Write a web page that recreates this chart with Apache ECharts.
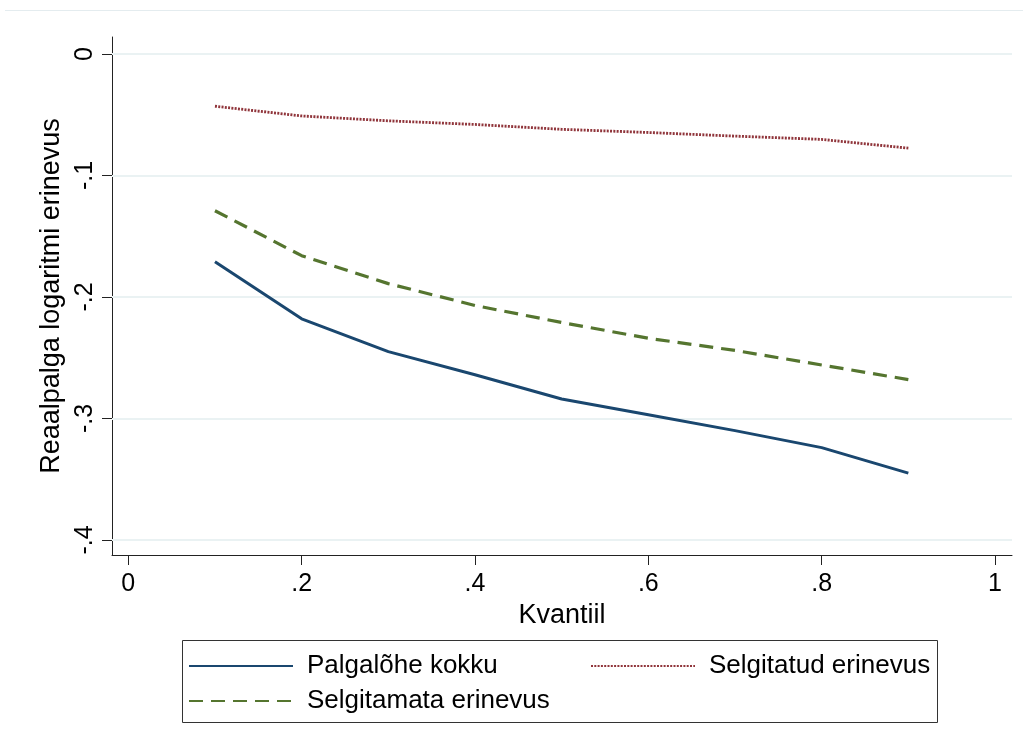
<!DOCTYPE html>
<html>
<head>
<meta charset="utf-8">
<script src="https://cdn.jsdelivr.net/npm/echarts@6/dist/echarts.min.js"></script>
<style>
html,body{margin:0;padding:0;background:#fff;}
#c{width:1023px;height:751px;}
</style>
</head>
<body>
<div id="c"></div>
<script>
// Data
var quantiles = [0.1, 0.2, 0.3, 0.4, 0.5, 0.6, 0.7, 0.8, 0.9];
var palgalohe = [-0.171, -0.218, -0.245, -0.264, -0.284, -0.297, -0.310, -0.324, -0.345];
var selgitatud = [-0.043, -0.051, -0.055, -0.058, -0.062, -0.0646, -0.0676, -0.0703, -0.0775];
var selgitamata = [-0.129, -0.166, -0.189, -0.207, -0.221, -0.234, -0.244, -0.256, -0.268];
var xTicks = [0, 0.2, 0.4, 0.6, 0.8, 1];
var yTicks = [0, -0.1, -0.2, -0.3, -0.4];
var seriesNames = ['Palgalõhe kokku', 'Selgitatud erinevus', 'Selgitamata erinevus'];

function pair(xs, ys){ return xs.map(function(x,i){ return [x, ys[i]]; }); }
function fmt(v){
  if (Math.abs(v) < 1e-9) return '0';
  var s = (Math.round(v*10)/10).toString();
  return s.replace(/^(-?)0\./, '$1.');
}

var FONT = 'Liberation Sans, Arial, sans-serif';
var chart = echarts.init(document.getElementById('c'), null, {renderer:'canvas'});
var legendBase = {
  orient: 'horizontal', itemWidth: 104, itemHeight: 14,
  itemStyle: {opacity: 0},
  textStyle: {fontFamily: FONT, fontSize: 26, color: '#000', padding: [0,0,0,9]},
  selectedMode: false
};
chart.setOption({
  backgroundColor: '#fff',
  animation: false,
  grid: {left: 112, top: 37, right: 11, bottom: 196, containLabel: false},
  xAxis: {
    type: 'value', min: -0.0188, max: 1.0196,
    name: 'Kvantiil', nameLocation: 'middle', nameGap: 37,
    nameTextStyle: {fontFamily: FONT, fontSize: 27, color: '#000'},
    axisLine: {show: true, onZero: false, lineStyle: {color: '#222', width: 1}},
    axisTick: {show: true, length: 10, inside: false, customValues: xTicks, lineStyle: {color: '#222'}},
    axisLabel: {customValues: xTicks, formatter: fmt, margin: 17, fontFamily: FONT, fontSize: 25, color: '#000'},
    splitLine: {show: false}
  },
  yAxis: {
    type: 'value', min: -0.4124, max: 0.014,
    name: 'Reaalpalga logaritmi erinevus', nameLocation: 'middle', nameGap: 41, nameRotate: 90,
    nameTextStyle: {fontFamily: FONT, fontSize: 27, color: '#000'},
    axisLine: {show: true, onZero: false, lineStyle: {color: '#222', width: 1}},
    axisTick: {show: true, length: 10, inside: false, customValues: yTicks, lineStyle: {color: '#222'}},
    axisLabel: {customValues: yTicks, formatter: fmt, rotate: 90, margin: 14, fontFamily: FONT, fontSize: 25, color: '#000'},
    splitLine: {show: false}
  },
  legend: [
    Object.assign({}, legendBase, {data: [seriesNames[0]], left: 183, top: 648}),
    Object.assign({}, legendBase, {data: [seriesNames[1]], left: 585, top: 648}),
    Object.assign({}, legendBase, {data: [seriesNames[2]], left: 183, top: 683})
  ],
  graphic: [
    {type: 'rect', shape: {x: 182.5, y: 640.5, width: 755, height: 82}, style: {fill: 'none', stroke: '#333', lineWidth: 1}, silent: true},
    {type: 'line', shape: {x1: 5, y1: 10.5, x2: 1023, y2: 10.5}, style: {stroke: '#e4ecef', lineWidth: 1}, silent: true}
  ],
  series: [
    {
      name: seriesNames[0], type: 'line', data: pair(quantiles, palgalohe),
      symbol: 'none', showSymbol: false, z: 3,
      lineStyle: {color: '#1a476f', width: 3, type: 'solid'},
      itemStyle: {color: '#1a476f'},
      markLine: {
        silent: true, symbol: 'none', label: {show: false}, z: 1,
        lineStyle: {color: '#eaf2f3', width: 2, type: 'solid'},
        data: yTicks.map(function(v){ return {yAxis: v}; })
      }
    },
    {
      name: seriesNames[1], type: 'line', data: pair(quantiles, selgitatud),
      symbol: 'none', showSymbol: false, z: 4,
      lineStyle: {color: '#90353b', width: 2.8, type: [2, 1.3]},
      itemStyle: {color: '#90353b'}
    },
    {
      name: seriesNames[2], type: 'line', data: pair(quantiles, selgitamata),
      symbol: 'none', showSymbol: false, z: 4,
      lineStyle: {color: '#55752f', width: 3.2, type: [14, 8]},
      itemStyle: {color: '#55752f'}
    }
  ]
});
</script>
</body>
</html>
